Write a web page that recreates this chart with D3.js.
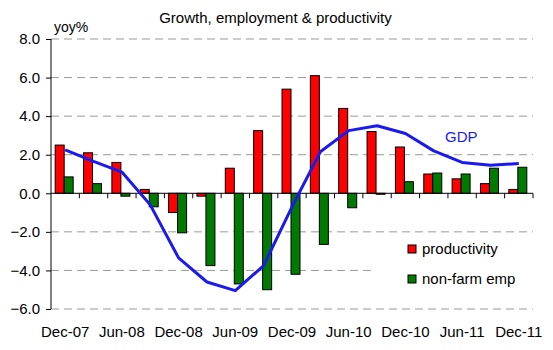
<!DOCTYPE html>
<html>
<head>
<meta charset="utf-8">
<script src="https://cdn.jsdelivr.net/npm/d3@7"></script>
<style>
  body { margin: 0; background: #fff; }
  text { font-family: "Liberation Sans", Arial, sans-serif; }
</style>
</head>
<body>
<div id="chart"></div>
<script>
// quarterly, Dec-07 .. Dec-11
const quarters = ["Dec-07","Mar-08","Jun-08","Sep-08","Dec-08","Mar-09","Jun-09","Sep-09",
  "Dec-09","Mar-10","Jun-10","Sep-10","Dec-10","Mar-11","Jun-11","Sep-11","Dec-11"];
const productivity = [2.5, 2.1, 1.6, 0.2, -1.0, -0.15, 1.3, 3.25, 5.4, 6.1, 4.4, 3.2, 2.4, 1.0, 0.75, 0.5, 0.2];
const nonFarmEmp = [0.85, 0.5, -0.15, -0.7, -2.05, -3.75, -4.7, -5.0, -4.2, -2.65, -0.75, -0.05, 0.6, 1.05, 1.0, 1.3, 1.35];
const gdp = [2.25, 1.65, 1.1, -0.6, -3.35, -4.6, -5.05, -3.75, -0.7, 2.15, 3.25, 3.5, 3.1, 2.2, 1.6, 1.45, 1.55];
const yTicks = [8, 6, 4, 2, 0, -2, -4, -6];

const W = 553, H = 350;
const margin = {top: 39, right: 20, bottom: 41, left: 51};
const width = W - margin.left - margin.right,
      height = H - margin.top - margin.bottom;

const svg = d3.select("#chart").append("svg")
    .attr("width", W)
    .attr("height", H);

const g = svg.append("g").attr("transform", `translate(${margin.left},${margin.top})`);

let x = d3.scaleBand().domain(quarters).range([0, width]);
let y = d3.scaleLinear().domain([-6, 8]).range([height, 0]);

// dashed grid
g.append("g").selectAll("line")
    .data(yTicks.filter(d => d !== 0))
    .join("line")
    .attr("x1", 0).attr("x2", width)
    .attr("y1", d => y(d)).attr("y2", d => y(d))
    .attr("stroke", "#999")
    .attr("stroke-dasharray", "8,5");

// y axis
let yAxis = d3.axisLeft(y).tickValues(yTicks).tickFormat(d3.format(".1f")).tickSize(5).tickPadding(6);
let ya = g.append("g").call(yAxis);
ya.select(".domain").attr("d", `M0,0V${height}`).attr("stroke", "#000");
ya.selectAll("text").style("font-size", "15px").attr("fill", "#000");

const bw = 9;
const series = [
  {name: "productivity", vals: productivity, color: "#ff0000", off: -bw},
  {name: "non-farm emp", vals: nonFarmEmp, color: "#007a00", off: 0}
];

series.forEach(s => {
  g.append("g").selectAll("rect")
    .data(s.vals)
    .join("rect")
    .attr("x", (d, i) => x(quarters[i]) + x.bandwidth() / 2 - 1 + s.off)
    .attr("width", bw)
    .attr("y", d => y(Math.max(0, d)))
    .attr("height", d => Math.abs(y(d) - y(0)))
    .attr("fill", s.color)
    .attr("stroke", "#000")
    .attr("stroke-width", 1);
});

// zero axis with ticks at category boundaries
g.append("line")
    .attr("x1", 0).attr("x2", width)
    .attr("y1", y(0)).attr("y2", y(0))
    .attr("stroke", "#000");
g.append("g").selectAll("line")
    .data(quarters)
    .join("line")
    .attr("x1", (d, i) => x.step() * (i + 1)).attr("x2", (d, i) => x.step() * (i + 1))
    .attr("y1", y(0)).attr("y2", y(0) + 5)
    .attr("stroke", "#000");

// GDP line
let line = d3.line()
    .x((d, i) => x(quarters[i]) + x.bandwidth() / 2)
    .y(d => y(d));
g.append("path")
    .datum(gdp)
    .attr("d", line)
    .attr("fill", "none")
    .attr("stroke", "#1a1aee")
    .attr("stroke-width", 3)
    .attr("stroke-linejoin", "round");

g.append("text")
    .attr("x", 394).attr("y", 103)
    .attr("fill", "#1a1aee")
    .style("font-size", "15px")
    .text("GDP");

// x labels, every other quarter
g.append("g").selectAll("text")
    .data(quarters.filter((d, i) => i % 2 === 0))
    .join("text")
    .attr("x", d => x(d) + x.bandwidth() / 2)
    .attr("y", height + 28)
    .attr("text-anchor", "middle")
    .style("font-size", "15px")
    .text(d => d);

// legend (white box hides grid)
let lg = g.append("g").attr("transform", "translate(325, 200)");
lg.append("rect").attr("x", 0).attr("y", 0).attr("width", 160).attr("height", 62).attr("fill", "#fff");
series.forEach((s, i) => {
  lg.append("rect")
    .attr("x", 32).attr("y", 6 + i * 30)
    .attr("width", 8).attr("height", 8)
    .attr("fill", s.color).attr("stroke", "#000");
  lg.append("text")
    .attr("x", 46).attr("y", 15 + i * 30)
    .style("font-size", "15px")
    .text(s.name);
});

// title and unit
svg.append("text")
    .attr("x", 275.5).attr("y", 23)
    .attr("text-anchor", "middle")
    .style("font-size", "15px")
    .text("Growth, employment & productivity");
svg.append("text")
    .attr("x", 54).attr("y", 32)
    .style("font-size", "14px")
    .text("yoy%");
</script>
</body>
</html>
